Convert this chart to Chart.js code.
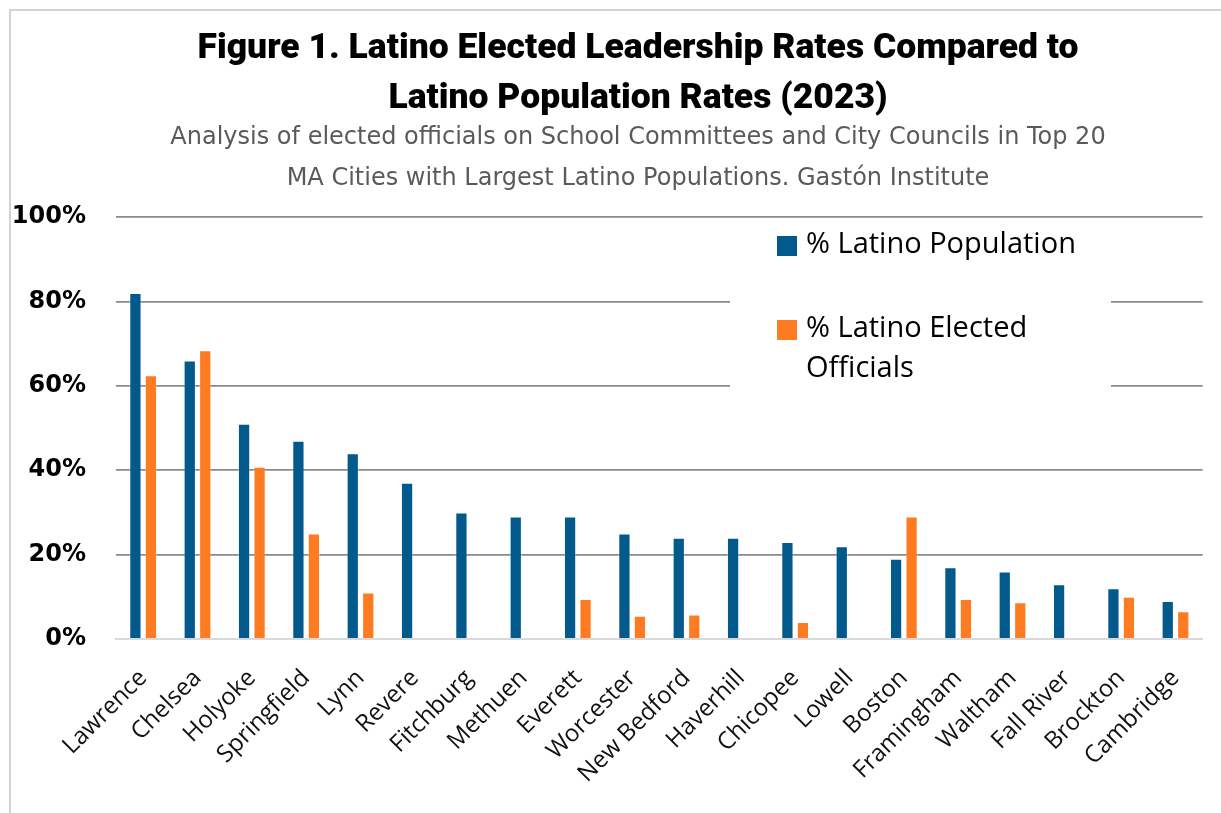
<!DOCTYPE html>
<html>
<head>
<meta charset="utf-8">
<title>Latino Elected Leadership Rates Compared to Latino Population Rates (2023)</title>
<script src="https://cdn.jsdelivr.net/npm/chart.js@4.4.1/dist/chart.umd.min.js"></script>
<style>
html, body { margin: 0; padding: 0; background: #fff; }
#wrap { position: relative; width: 1221px; height: 813px; }
</style>
</head>
<body>
<div id="wrap"><canvas id="chart"></canvas></div>
<script>
// data (percent)
const cities = ["Lawrence", "Chelsea", "Holyoke", "Springfield", "Lynn", "Revere", "Fitchburg", "Methuen",
  "Everett", "Worcester", "New Bedford", "Haverhill", "Chicopee", "Lowell", "Boston", "Framingham",
  "Waltham", "Fall River", "Brockton", "Cambridge"]
const latinoPopulation = [82, 66, 51, 47, 44, 37, 30, 29, 29, 25, 24, 24, 23, 22, 19, 17, 16, 13, 12, 9]
const latinoElected = [62.5, 68.4, 40.8, 25, 11, 0, 0, 0, 9.5, 5.5, 5.8, 0, 4, 0, 29, 9.5, 8.7, 0, 10, 6.6]
const yTicks = [0, 20, 40, 60, 80, 100]

const titleLines = ["Figure 1. Latino Elected Leadership Rates Compared to", "Latino Population Rates (2023)"]
const subtitleLines = ["Analysis of elected officials on School Committees and City Councils in Top 20",
  "MA Cities with Largest Latino Populations. Gastón Institute"]

const blue = "#02598B"
const orange = "#FF7B22"

// white background + thin frame on the top and left
const framePlugin = {
  id: "frame",
  afterLayout(chart) {
    // centre the title and subtitle a bit right of the canvas middle, like the original
    chart.boxes.forEach(function(b) {
      if (b.options && b.options.text !== undefined) {
        b.left = 60
      }
    })
  },
  beforeDraw(chart) {
    let c = chart.ctx
    c.save()
    c.fillStyle = "#fff"
    c.fillRect(0, 0, chart.width, chart.height)
    c.strokeStyle = "#d3d3d3"
    c.lineWidth = 2
    c.beginPath()
    c.moveTo(10, chart.height)
    c.lineTo(10, 10)
    c.lineTo(chart.width, 10)
    c.stroke()
    c.restore()
  }
}

// legend drawn inside the plot, on a white box that hides the grid lines
const boxLegend = {
  id: "boxLegend",
  afterDatasetsDraw(chart) {
    let c = chart.ctx
    let a = chart.chartArea
    let boxX = a.left + 614
    let boxY = a.top + 5
    c.save()
    c.fillStyle = "#fff"
    c.fillRect(boxX, boxY, 381, 180)
    c.font = "29px 'Open Sans'"
    c.textBaseline = "alphabetic"
    let textX = a.left + 690
    let maxW = 305
    let baseY = a.top + 36
    chart.data.datasets.forEach(function(ds, i) {
      let y = baseY + i * 84
      c.fillStyle = ds.backgroundColor
      c.fillRect(a.left + 661, y - 17, 20, 20)
      c.fillStyle = "#000"
      // wrap words
      let words = ds.label.split(" ")
      let line = ""
      let lines = []
      words.forEach(function(w) {
        let test = line ? line + " " + w : w
        if (c.measureText(test).width > maxW && line) {
          lines.push(line)
          line = w
        } else {
          line = test
        }
      })
      lines.push(line)
      lines.forEach(function(l, j) {
        c.fillText(l, textX, y + j * 40)
      })
    })
    c.restore()
  }
}

let ctx = document.getElementById("chart")

new Chart(ctx, {
  type: "bar",
  data: {
    labels: cities,
    datasets: [
      {
        label: "% Latino Population",
        data: latinoPopulation,
        backgroundColor: blue,
        borderColor: "rgba(255,255,255,0.35)",
        borderWidth: 1,
        categoryPercentage: 0.571,
        barPercentage: 0.79
      },
      {
        label: "% Latino Elected Officials",
        data: latinoElected,
        backgroundColor: orange,
        borderColor: "rgba(255,255,255,0.35)",
        borderWidth: 1,
        categoryPercentage: 0.571,
        barPercentage: 0.79
      }
    ]
  },
  options: {
    responsive: true,
    maintainAspectRatio: false,
    animation: false,
    layout: { padding: { left: 0, right: 5, top: 12, bottom: 0 } },
    plugins: {
      legend: { display: false },
      tooltip: { enabled: false },
      title: {
        display: true,
        text: titleLines,
        color: "#000",
        font: { family: "Roboto, 'Liberation Sans', sans-serif", size: 35.5, weight: "900", lineHeight: "50px" },
        padding: { top: 12.5, bottom: -6 }
      },
      subtitle: {
        display: true,
        text: subtitleLines,
        color: "#5a5a5a",
        font: { family: "'DejaVu Sans', sans-serif", size: 24, weight: "normal", lineHeight: "41px" },
        padding: { top: -1.3, bottom: 17.8 }
      }
    },
    scales: {
      x: {
        grid: { display: false, drawTicks: false },
        border: { display: true, color: "#d9d9d9", width: 2 },
        ticks: {
          color: "#111",
          font: { family: "'Open Sans', sans-serif", size: 24 },
          minRotation: 45,
          maxRotation: 45,
          autoSkip: false,
          padding: 25
        },
        afterFit(scale) { scale.height = 174 }
      },
      y: {
        min: 0,
        max: 100,
        afterBuildTicks(scale) {
          scale.ticks = yTicks.map(v => ({ value: v }))
        },
        grid: {
          drawTicks: false,
          color: c => (c.tick && c.tick.value === 0 ? "rgba(0,0,0,0)" : "#8a8a8a"),
          lineWidth: 1.8
        },
        border: { display: false },
        ticks: {
          color: "#000",
          font: { family: "'DejaVu Sans', sans-serif", size: 24, weight: "bold" },
          padding: 30,
          callback: v => v + "%"
        },
        afterFit(scale) { scale.width = 116 }
      }
    }
  },
  plugins: [framePlugin, boxLegend]
})
</script>
</body>
</html>
